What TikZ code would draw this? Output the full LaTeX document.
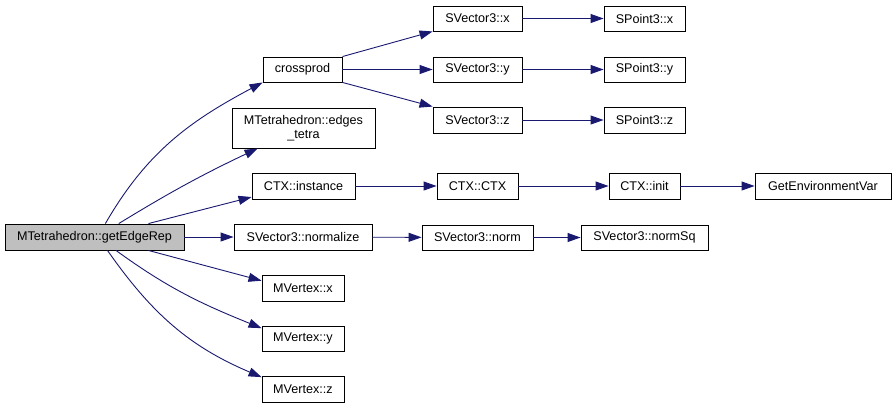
\documentclass[tikz,border=0pt]{standalone}
\usepackage{fontspec}
\setmainfont{Liberation Sans}
\usetikzlibrary{arrows.meta}
\definecolor{edgeblue}{HTML}{191970}
\definecolor{rootgray}{HTML}{BFBFBF}
\tikzset{
  fn/.style = {
    draw=black, line width=0.9pt, inner sep=0pt, align=center,
    minimum height=25pt, font=\fontsize{12.6}{14.5}\selectfont
  },
  root/.style = {fn, fill=rootgray},
  call/.style = {->, draw=edgeblue, line width=0.9pt}
}
\tikzset{>={Triangle[length=13pt,width=9pt]}}

\begin{document}
\begin{tikzpicture}[x=1pt,y=-1pt]
  \useasboundingbox (0,0) rectangle (896,408);
  \pgfmathsetmacro{\colone}{303};
  \pgfmathsetmacro{\coltwo}{477.5};
  \pgfmathsetmacro{\colthree}{644.5};
  \node[root, minimum width=179pt, minimum height=26pt] (getEdgeRep) at (94.5,237) {MTetrahedron::getEdgeRep};
  \node[fn, minimum width=79pt] (crossprod) at (302.5,69.5) {crossprod};
  \node[fn, minimum width=143pt, minimum height=40pt] (edgesTetra) at (303.5,128) {MTetrahedron::edges\\\_tetra};
  \node[fn, minimum width=103pt, minimum height=26pt] (instance) at (303.5,186) {CTX::instance};
  \node[fn, minimum width=138pt, minimum height=26pt] (normalize) at (\colone,237) {SVector3::normalize};
  \node[fn, minimum width=82pt, minimum height=26pt] (vertexX) at (\colone,288) {MVertex::x};
  \node[fn, minimum width=82pt] (vertexY) at (\colone,338.5) {MVertex::y};
  \node[fn, minimum width=82pt, minimum height=26pt] (vertexZ) at (\colone,389) {MVertex::z};
  \node[fn, minimum width=89pt] (vectorX) at (\coltwo,18.5) {SVector3::x};
  \node[fn, minimum width=89pt] (vectorY) at (\coltwo,69.5) {SVector3::y};
  \node[fn, minimum width=89pt, minimum height=26pt] (vectorZ) at (\coltwo,120) {SVector3::z};
  \node[fn, minimum width=81pt] (pointX) at (\colthree,18.5) {SPoint3::x};
  \node[fn, minimum width=81pt] (pointY) at (\colthree,69.5) {SPoint3::y};
  \node[fn, minimum width=81pt, minimum height=26pt] (pointZ) at (\colthree,120) {SPoint3::z};
  \node[fn, minimum width=81pt, minimum height=26pt] (ctxCtor) at (\coltwo,186) {CTX::CTX};
  \node[fn, minimum width=71pt, minimum height=26pt] (ctxInit) at (\colthree,186) {CTX::init};
  \node[fn, minimum width=136pt, minimum height=26pt] (getEnv) at (823,186) {GetEnvironmentVar};
  \node[fn, minimum width=111pt] (norm) at (\coltwo,237.5) {SVector3::norm};
  \node[fn, minimum width=127pt] (normSq) at (\colthree,237.5) {SVector3::normSq};
  \draw[call] (getEdgeRep.51) to[out=60,in=208] (crossprod.south west);
  \draw[call] (getEdgeRep.29) to[bend left=3] (edgesTetra.204);
  \draw[call] (getEdgeRep.14) -- (instance.192);
  \draw[call] (getEdgeRep) -- (normalize);
  \draw[call] (getEdgeRep.-14) -- (vertexX.170);
  \draw[call] (getEdgeRep.-32) to[out=-36,in=158] (vertexY.166);
  \draw[call] (getEdgeRep.-46) to[out=-55,in=157] (vertexZ.164);
  \draw[call] (crossprod.north east) -- (vectorX.south west);
  \draw[call] (crossprod) -- (vectorY);
  \draw[call] (crossprod.south east) -- (vectorZ.north west);
  \draw[call] (vectorX) -- (pointX);
  \draw[call] (vectorY) -- (pointY);
  \draw[call] (vectorZ) -- (pointZ);
  \draw[call] (instance) -- (ctxCtor);
  \draw[call] (ctxCtor) -- (ctxInit);
  \draw[call] (ctxInit) -- (getEnv);
  \draw[call] (normalize) -- (norm);
  \draw[call] (norm) -- (normSq);
\end{tikzpicture}
\end{document}
